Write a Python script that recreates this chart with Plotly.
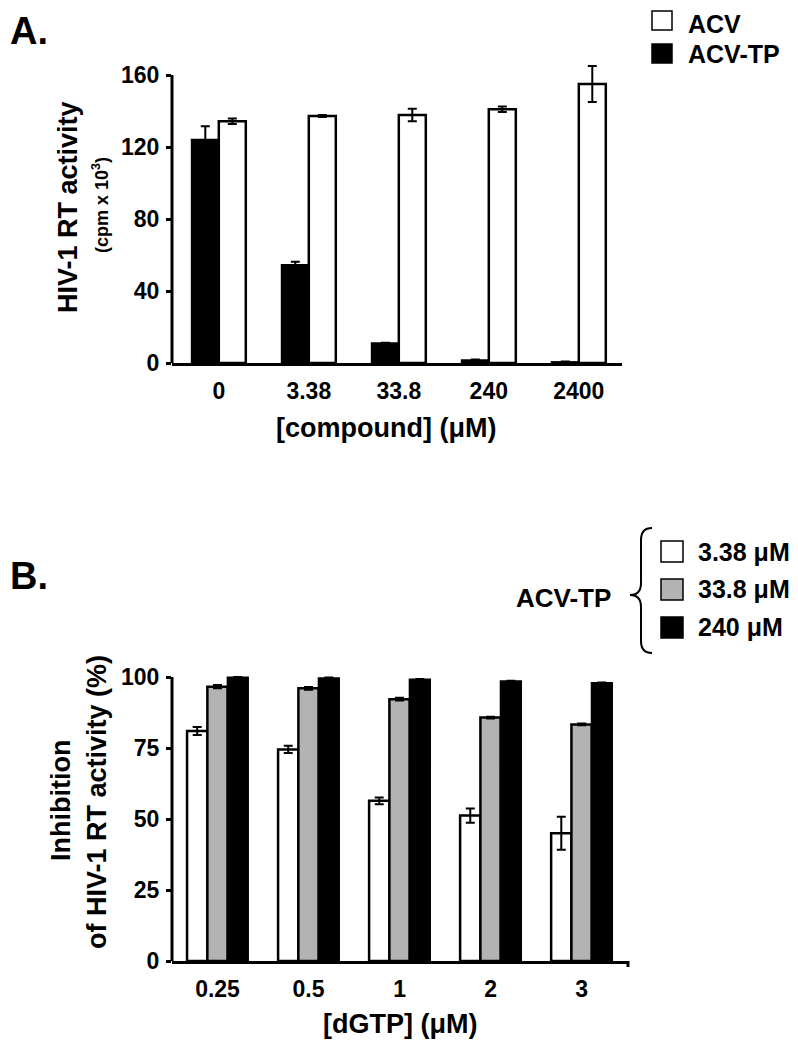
import plotly.graph_objects as go

# ---------------- data ----------------
compound_labels = ["0", "3.38", "33.8", "240", "2400"]
acv_tp_vals = [124, 54.5, 11, 1.5, 0.5]
acv_tp_err = [7.5, 1.8, 0.3, 0.5, 0.3]
acv_vals = [134.3, 137.2, 137.8, 141, 155]
acv_err = [1.5, 0.6, 3.5, 1.5, 10]

dgtp_labels = ["0.25", "0.5", "1", "2", "3"]
tp_338_vals = [81, 74.5, 56.4, 51.2, 45]
tp_338_err = [1.4, 1.3, 1.2, 2.5, 5.8]
tp_338b_vals = [96.6, 96.0, 92.2, 85.7, 83.3]
tp_338b_err = [0.6, 0.5, 0.5, 0.3, 0.3]
tp_240_vals = [99.8, 99.6, 99.1, 98.5, 97.9]
tp_240_err = [0.2, 0.2, 0.2, 0.2, 0.2]

series_a_names = ["ACV", "ACV-TP"]
series_b_names = ["3.38 μM", "33.8 μM", "240 μM"]
ticks_a = [0, 40, 80, 120, 160]
ticks_b = [0, 25, 50, 75, 100]

# ---------------- layout helpers (page pixels -> paper) ----------------
OFF = 8  # default page body margin
W, H = 798 - 2 * OFF, 1049 - 2 * OFF
def px(x):
    return (x - OFF) / W
def py(y):
    return 1 - (y - OFF) / H

FONT = "Liberation Sans, Arial, sans-serif"
GRAY = "#b3b3b3"

fig = go.Figure()

def err(arr):
    return dict(type="data", array=arr, visible=True, color="black", thickness=2, width=4.5)

# Panel A
fig.add_trace(go.Bar(x=compound_labels, y=acv_tp_vals, error_y=err(acv_tp_err), name=series_a_names[1],
                     marker=dict(color="black", line=dict(color="black", width=2)),
                     xaxis="x", yaxis="y"))
fig.add_trace(go.Bar(x=compound_labels, y=acv_vals, error_y=err(acv_err), name=series_a_names[0],
                     marker=dict(color="white", line=dict(color="black", width=2.5)),
                     xaxis="x", yaxis="y"))
# Panel B
fig.add_trace(go.Bar(x=dgtp_labels, y=tp_338_vals, error_y=err(tp_338_err), name=series_b_names[0],
                     marker=dict(color="white", line=dict(color="black", width=2.5)),
                     xaxis="x2", yaxis="y2"))
fig.add_trace(go.Bar(x=dgtp_labels, y=tp_338b_vals, error_y=err(tp_338b_err), name=series_b_names[1],
                     marker=dict(color=GRAY, line=dict(color="black", width=2.5)),
                     xaxis="x2", yaxis="y2"))
fig.add_trace(go.Bar(x=dgtp_labels, y=tp_240_vals, error_y=err(tp_240_err), name=series_b_names[2],
                     marker=dict(color="black", line=dict(color="black", width=2)),
                     xaxis="x2", yaxis="y2"))

tickfont = dict(family=FONT, size=23, color="black", weight="bold")

a_y0 = 363; a_scale = 1.8; a_top = 170
b_y0 = 961; b_scale = 2.84; b_top = 102

xcommon = dict(type="category", showline=True, linecolor="black", linewidth=3,
               ticks="", showgrid=False, zeroline=False, tickfont=tickfont,
               ticklabelstandoff=5, automargin=False)
ycommon = dict(showline=False, showgrid=False, zeroline=False, ticks="outside",
               ticklen=5, tickwidth=3, tickcolor="black", tickfont=tickfont,
               ticklabelstandoff=2, automargin=False)

fig.update_layout(
    width=W, height=H,
    margin=dict(l=0, r=0, t=0, b=0),
    paper_bgcolor="white", plot_bgcolor="white",
    showlegend=False,
    barmode="group",
    bargap=0.4, bargroupgap=0,
    xaxis=dict(domain=[px(172), px(622)], anchor="y", range=[-0.52, 4.48], **xcommon),
    yaxis=dict(domain=[py(a_y0), py(a_y0 - a_top * a_scale)], anchor="x",
               range=[0, a_top], tickvals=ticks_a, **ycommon),
    xaxis2=dict(domain=[px(172), px(628)], anchor="y2", range=[-0.5, 4.51], **xcommon),
    yaxis2=dict(domain=[py(b_y0), py(b_y0 - b_top * b_scale)], anchor="x2",
                range=[0, b_top], tickvals=ticks_b, **ycommon),
)
bw = 0.223
for k, tr in enumerate(fig.data[2:]):
    tr.width = bw
    tr.offset = -1.5 * bw + k * bw
bwa = 0.3
for k, tr in enumerate(fig.data[:2]):
    tr.width = bwa
    tr.offset = -bwa + k * bwa

shapes = [
    dict(type="line", xref="x domain", yref="y", x0=0, x1=0, y0=0, y1=ticks_a[-1],
         line=dict(color="black", width=3)),
    dict(type="line", xref="x2 domain", yref="y2", x0=0, x1=0, y0=0, y1=ticks_b[-1],
         line=dict(color="black", width=3)),
    dict(type="line", xref="x2 domain", yref="paper", x0=1, x1=1, y0=py(b_y0), y1=py(b_y0 + 6),
         line=dict(color="black", width=3)),
]

def sq(x0, y0, x1, y1, fill):
    return dict(type="rect", xref="paper", yref="paper", x0=px(x0), x1=px(x1), y0=py(y1), y1=py(y0),
                fillcolor=fill, line=dict(color="black", width=1.5))

shapes += [sq(652, 11, 672, 30, "white"), sq(652, 44, 672, 63, "black")]
shapes += [sq(661, 541, 683, 562, "white"), sq(661, 579, 683, 600, GRAY), sq(661, 617, 683, 638, "black")]

pts = [(652, 528), (641, 528), (641, 540), (641, 583), (641, 595), (630, 595), (641, 595), (641, 607),
       (641, 641), (641, 653), (652, 653)]
P = [(px(x), py(y)) for x, y in pts]
path = (f"M {P[0][0]},{P[0][1]} Q {P[1][0]},{P[1][1]} {P[2][0]},{P[2][1]} "
        f"L {P[3][0]},{P[3][1]} Q {P[4][0]},{P[4][1]} {P[5][0]},{P[5][1]} "
        f"Q {P[6][0]},{P[6][1]} {P[7][0]},{P[7][1]} L {P[8][0]},{P[8][1]} "
        f"Q {P[9][0]},{P[9][1]} {P[10][0]},{P[10][1]}")
shapes.append(dict(type="path", xref="paper", yref="paper", path=path,
                   line=dict(color="black", width=2)))
fig.update_layout(shapes=shapes)

def ann(text, x, y, size, xanchor="center", yanchor="middle", angle=0):
    return dict(text=text, x=px(x), y=py(y), xref="paper", yref="paper", showarrow=False,
                xanchor=xanchor, yanchor=yanchor, textangle=angle,
                font=dict(family=FONT, size=size, color="black", weight="bold"))

anns = [
    ann("A.", 8, 8, 38, xanchor="left", yanchor="top"),
    ann("B.", 8, 576, 38, xanchor="left"),
    ann("HIV-1 RT activity", 68, 207, 27, angle=-90),
    ann("(cpm x 10<sup>3</sup>)", 100, 205, 18, angle=-90),
    ann("[compound] (μM)", 386, 428, 27),
    ann("Inhibition", 61, 801, 27, angle=-90),
    ann("of HIV-1 RT activity (%)", 97, 802, 27, angle=-90),
    ann("[dGTP] (μM)", 400, 1041, 27, yanchor="bottom"),
    ann(series_a_names[0], 686, 8, 25, xanchor="left", yanchor="top"),
    ann(series_a_names[1], 686, 54, 25, xanchor="left"),
    ann("ACV-TP", 563, 598, 26),
    ann(series_b_names[0], 696, 552, 25, xanchor="left"),
    ann(series_b_names[1], 696, 589, 25, xanchor="left"),
    ann(series_b_names[2], 696, 627, 25, xanchor="left"),
]
fig.update_layout(annotations=anns)

fig.write_html("out.html", config={"displayModeBar": False})
